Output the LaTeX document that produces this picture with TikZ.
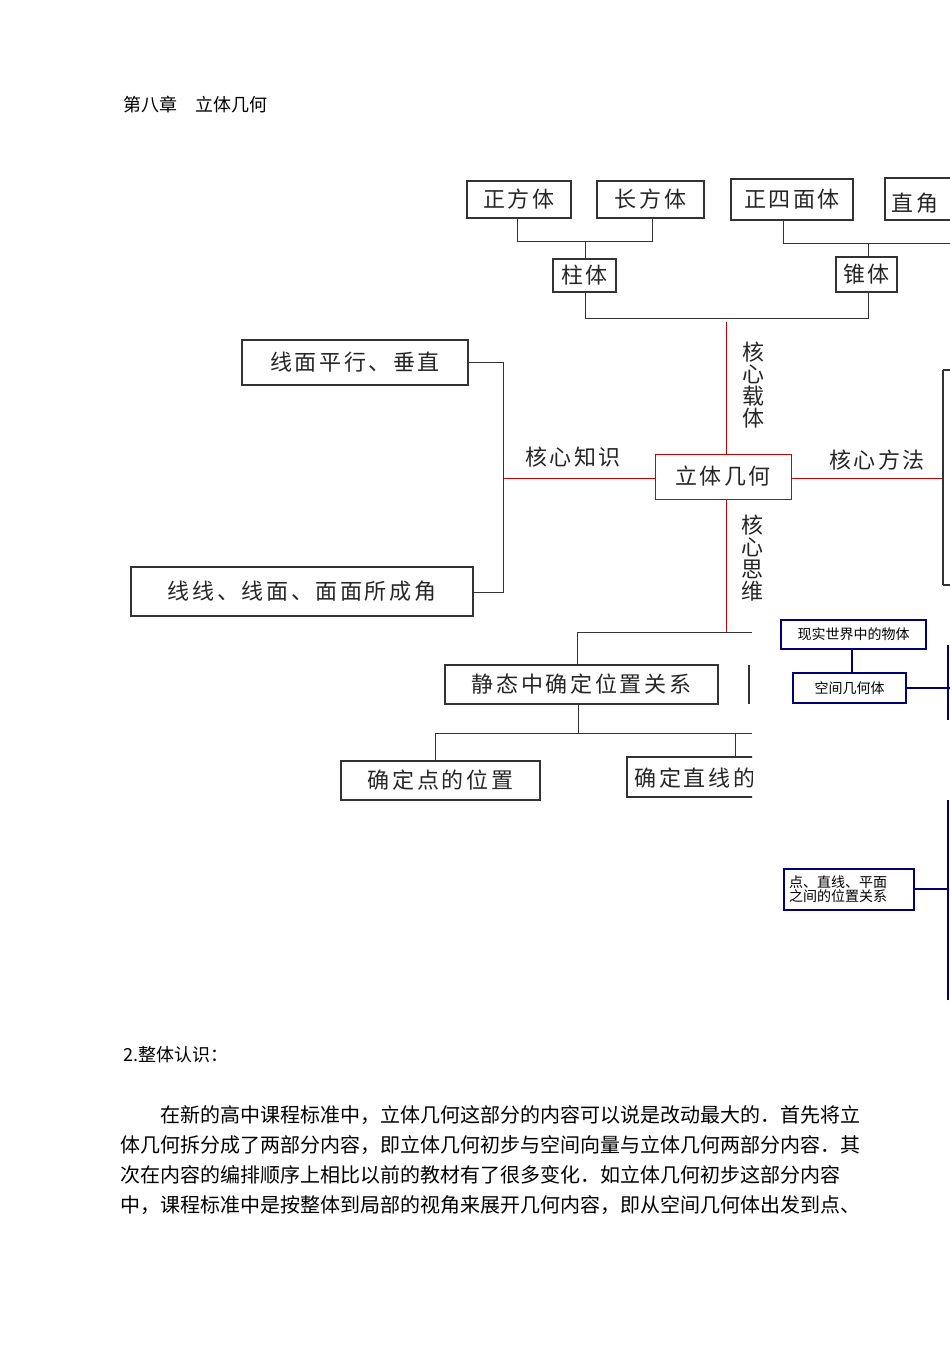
\documentclass[tikz,border=0pt]{standalone}
\usepackage{fontspec}
\setmainfont{Noto Sans CJK SC}
\newfontfamily\spaced[LetterSpace=12]{Noto Sans CJK SC}
\begin{document}
\begin{tikzpicture}[x=1pt,y=-1pt,
  bx/.style={draw=black!80,line width=1.2pt},
  lb/.style={font=\spaced\fontsize{22}{24}\selectfont,text=black!85},
  ln/.style={draw=black!80,line width=1pt},
  rd/.style={draw=red!80!black,line width=1pt},
  bl/.style={draw=blue!45!black,line width=1.2pt},
  bt/.style={font=\fontsize{14}{16}\selectfont,align=left}]
\useasboundingbox (0,0) rectangle (950,1350);
\node[anchor=west,font=\fontsize{18}{20}\selectfont] (title) at (120,105) {第八章\quad 立体几何};
\begin{scope}
\clip (0,0) rectangle (950,1000);
% top boxes
\draw[bx] (467,181) rectangle (571,218) node[midway,lb] (zf) {正方体};
\draw[bx] (597,181) rectangle (704,218) node[midway,lb] (cf) {长方体};
\draw[bx] (731,179) rectangle (853,220) node[midway,lb] (zs) {正四面体};
\draw[bx] (885,178) rectangle (960,220);
\node[lb,anchor=west] (zj) at (888,203) {直角};
\draw[bx] (553,259) rectangle (616,292) node[midway,lb] (zt) {柱体};
\draw[bx] (836,257) rectangle (897,292) node[midway,lb] (zu) {锥体};
\draw[ln] (517,218) -- (517,241) -- (652,241) -- (652,218);
\draw[ln] (585,241) -- (585,259);
\draw[ln] (783,220) -- (783,243) -- (950,243);
\draw[ln] (868,243) -- (868,257);
\draw[ln] (585,292) -- (585,318) -- (868,318) -- (868,292);
% center
\draw[rd] (655,454) rectangle (791,499) node[midway,lb] (lt) {立体几何};
\draw[rd] (726,322) -- (726,454);
\draw[rd] (655,478) -- (503,478);
\draw[rd] (791,478) -- (943,478);
\draw[rd] (726,499) -- (726,632);
\node[lb,align=center,inner sep=0] (zt2) at (753,385) {核\\[-2pt]心\\[-2pt]载\\[-2pt]体};
\node[lb] (zs2) at (573,457) {核心知识};
\node[lb] (ff) at (877,460) {核心方法};
\begin{scope}
\clip (700,505) rectangle (780,620);
\node[lb,align=center,inner sep=0,anchor=north] (sw) at (752,515) {核\\[-2pt]心\\[-2pt]思\\[-2pt]维};
\end{scope}
\draw[bx] (242,340) rectangle (468,385) node[midway,lb] (xm) {线面平行、垂直};
\draw[bx] (131,567) rectangle (473,616) node[midway,lb] (xx) {线线、线面、面面所成角};
\draw[ln] (468,362) -- (503,362) -- (503,592) -- (473,592);
\draw[bx] (943,370) -- (943,585);
\draw[bx] (943,370) -- (952,370); \draw[bx] (943,585) -- (952,585);
% lower left
\begin{scope}
\clip (0,620) rectangle (752,820);
\draw[ln] (577,632) -- (752,632);
\draw[ln] (577,632) -- (577,665);
\draw[bx] (445,665) rectangle (718,704) node[midway,lb] (jt) {静态中确定位置关系};
\draw[bx] (749,665) -- (749,704);
\draw[ln] (578,704) -- (578,733);
\draw[ln] (435,733) -- (752,733);
\draw[ln] (435,733) -- (435,761);
\draw[ln] (735,733) -- (735,757);
\draw[bx] (341,761) rectangle (540,800) node[midway,lb] (dd) {确定点的位置};
\draw[bx] (627,757) rectangle (800,797);
\node[lb,anchor=west] (zx) at (631,778) {确定直线的};
\end{scope}
% blue
\draw[bl] (781,620) rectangle (926,649) node[midway,bt] (xs) {现实世界中的物体};
\draw[bl] (793,673) rectangle (906,703) node[midway,bt] (kj) {空间几何体};
\draw[bl] (852,649) -- (852,673);
\draw[bl] (906,688) -- (950,688);
\draw[bl] (948,645) -- (948,720);
\draw[bl] (948,800) -- (948,1000);
\draw[bl] (784,869) rectangle (914,910);
\node[bt,anchor=west,inner sep=0] (dz) at (789,889) {点、直线、平面\\[-2pt]之间的位置关系};
\draw[bl] (914,889) -- (948,889);
\end{scope}
% text
\node[anchor=west,font=\fontsize{18}{20}\selectfont] (h2) at (120,1055) {2.整体认识：};
\begin{scope}[every node/.style={anchor=west,inner sep=0,font=\fontsize{20}{22}\selectfont}]
\node (p1) at (160,1115) {在新的高中课程标准中，立体几何这部分的内容可以说是改动最大的．首先将立};
\node (p2) at (120,1145) {体几何拆分成了两部分内容，即立体几何初步与空间向量与立体几何两部分内容．其};
\node (p3) at (120,1175) {次在内容的编排顺序上相比以前的教材有了很多变化．如立体几何初步这部分内容};
\node (p4) at (120,1205) {中，课程标准中是按整体到局部的视角来展开几何内容，即从空间几何体出发到点、};
\end{scope}
\end{tikzpicture}
\end{document}
